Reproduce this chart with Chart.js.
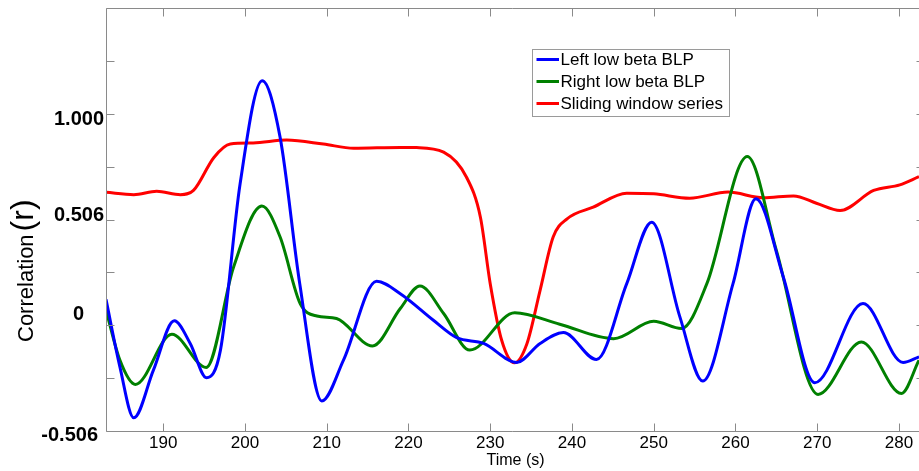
<!DOCTYPE html>
<html>
<head>
<meta charset="utf-8">
<script src="https://cdn.jsdelivr.net/npm/chart.js@4"></script>
<style>
  html, body { margin: 0; padding: 0; background: #fff; }
  #wrap { width: 919px; height: 471px; }
</style>
</head>
<body>
<div id="wrap"><canvas id="mycanvas" width="919" height="471"></canvas></div>
<script>
// values (time in s, correlation in axis units)
var leftTime  = [183, 184.7, 186.4, 188.8, 191.35, 193.3, 195.3, 197.0, 199.4, 202.1, 204.3, 206.7, 209.4, 212.05, 216.1, 219.0,
                 223.05, 225.9, 229.2, 233.25, 236.1, 238.95, 243.0, 246.7, 249.75, 253.2, 256.0, 259.7, 262.5, 265.85, 269.7, 275.6, 280.5, 282.45];
var leftValue = [0.124, -0.199, -0.443, -0.215, 0.021, -0.087, -0.251, -0.119, 0.676, 1.170, 0.899, 0.199, -0.363, -0.167, 0.210, 0.151,
                 0.024, -0.059, -0.087, -0.178, -0.087, -0.035, -0.164, 0.199, 0.493, 0.040, -0.267, 0.199, 0.605, 0.231, -0.275, 0.104, -0.178, -0.151];

var rightTime  = [183, 184.7, 186.6, 191.06, 195.26, 198.6, 202.07, 204.3, 206.75, 208.8, 211.2, 215.6, 219.0, 221.4, 224.3, 227.5,
                  233.0, 238.5, 245.1, 250.0, 253.4, 256.5, 261.45, 265.0, 270.1, 275.4, 280.3, 282.45];
var rightValue = [0.072, -0.167, -0.283, -0.043, -0.202, 0.278, 0.570, 0.422, 0.104, 0.044, 0.032, -0.099, 0.080, 0.188, 0.056, -0.119,
                  0.060, 0.005, -0.064, 0.019, -0.016, 0.199, 0.807, 0.358, -0.331, -0.080, -0.326, -0.167];

var slideTime  = [183, 186.4, 189.2, 192.1, 193.7, 196.2, 198.2, 201.0, 205.1, 209.6, 213.3, 219.0, 221.0, 224.3, 227.1, 228.8,
                  230.0, 231.4, 232.96, 234.5, 236.1, 237.7, 239.4, 242.6, 246.7, 250.0, 254.4, 259.1, 263.4, 267.1, 269.9, 272.8, 276.9, 280.1, 282.45];
var slideValue = [0.636, 0.625, 0.641, 0.625, 0.645, 0.803, 0.867, 0.872, 0.886, 0.867, 0.847, 0.851, 0.850, 0.828, 0.708, 0.517,
                  0.199, -0.072, -0.180, -0.087, 0.167, 0.422, 0.509, 0.565, 0.632, 0.629, 0.608, 0.637, 0.610, 0.619, 0.584, 0.549, 0.645, 0.672, 0.711];

var seriesNames = ["Left low beta BLP", "Right low beta BLP", "Sliding window series"];
var seriesColors = ["#0000ff", "#008000", "#ff0000"];

var xTicks = [190, 200, 210, 220, 230, 240, 250, 260, 270, 280];
var yTickValues = [-0.506, -0.253, 0, 0.253, 0.506, 0.759, 1.012, 1.265, 1.518];
var yLabelValues = [-0.506, 0, 0.506, 1.012];
var yLabelText = ["-0.506", "0", "0.506", "1.000"];

var FONT = "'Liberation Sans', Arial, sans-serif";

function pts(xs, ys) {
  var out = [];
  for (var i = 0; i < xs.length; i++) out.push({x: xs[i], y: ys[i]});
  return out;
}

// axes, ticks, labels and legend drawn in the MATLAB look
var matlabAxes = {
  id: 'matlabAxes',
  afterDraw: function(chart) {
    var ctx = chart.ctx;
    var a = chart.chartArea;
    var xs = chart.scales.x, ys = chart.scales.y;
    var L = Math.round(a.left) + 0.5, T = Math.round(a.top) + 0.5, B = Math.round(a.bottom) + 0.5, R = a.right;
    ctx.save();
    ctx.strokeStyle = '#8a8a8a';
    ctx.lineWidth = 1;
    ctx.beginPath();
    ctx.moveTo(R, T); ctx.lineTo(L, T); ctx.lineTo(L, B); ctx.lineTo(R, B);
    ctx.stroke();

    // x ticks (bottom and top, inward)
    ctx.beginPath();
    xTicks.forEach(function(v) {
      var px = Math.round(xs.getPixelForValue(v)) + 0.5;
      ctx.moveTo(px, B); ctx.lineTo(px, B - 8);
      ctx.moveTo(px, T); ctx.lineTo(px, T + 8);
    });
    // y ticks (left and the clipped right side)
    yTickValues.forEach(function(v) {
      var py = Math.round(ys.getPixelForValue(v)) + 0.5;
      ctx.moveTo(L, py); ctx.lineTo(L + 8, py);
      ctx.moveTo(R - 2.5, py); ctx.lineTo(R, py);
    });
    ctx.stroke();

    // x tick labels
    ctx.fillStyle = '#000';
    ctx.font = '17px ' + FONT;
    ctx.textAlign = 'center';
    ctx.textBaseline = 'middle';
    xTicks.forEach(function(v) {
      ctx.fillText(String(v), xs.getPixelForValue(v), 443);
    });
    ctx.font = '16px ' + FONT;
    ctx.fillText('Time (s)', (a.left + 925) / 2, 461);

    // y tick labels (bold, placed as in the original figure)
    var labelRight = [98, 84, 104, 104];
    var labelShift = [4.5, -11, -4, 6];
    ctx.font = 'bold 20px ' + FONT;
    ctx.textAlign = 'right';
    yLabelValues.forEach(function(v, i) {
      ctx.fillText(yLabelText[i], labelRight[i], ys.getPixelForValue(v) + labelShift[i]);
    });

    // y axis title, "(r)" larger
    ctx.save();
    ctx.translate(33, 342);
    ctx.rotate(-Math.PI / 2);
    ctx.textAlign = 'left';
    ctx.textBaseline = 'alphabetic';
    ctx.font = '22px ' + FONT;
    ctx.fillText('Correlation', 0, 0);
    var w = ctx.measureText('Correlation').width;
    ctx.font = '32px ' + FONT;
    ctx.fillText('(r)', w + 3, 0);
    ctx.restore();

    // legend box
    var lx = 532, ly = 49, lw = 197, lh = 67;
    ctx.fillStyle = '#fff';
    ctx.fillRect(lx, ly, lw, lh);
    ctx.strokeStyle = '#9a9a9a';
    ctx.lineWidth = 1;
    ctx.strokeRect(lx + 0.5, ly + 0.5, lw, lh);
    ctx.font = '17px ' + FONT;
    ctx.textAlign = 'left';
    ctx.textBaseline = 'middle';
    chart.data.datasets.forEach(function(ds, i) {
      var ry = ly + 10.5 + i * 22;
      ctx.strokeStyle = ds.borderColor;
      ctx.lineWidth = 3;
      ctx.beginPath();
      ctx.moveTo(lx + 4.5, ry); ctx.lineTo(lx + 27, ry);
      ctx.stroke();
      ctx.fillStyle = '#000';
      ctx.fillText(ds.label, lx + 28.5, ry + 1);
    });
    ctx.restore();
  }
};

var chartdata = {
  datasets: [
    { label: seriesNames[0], data: pts(leftTime, leftValue) },
    { label: seriesNames[1], data: pts(rightTime, rightValue) },
    { label: seriesNames[2], data: pts(slideTime, slideValue) }
  ]
};
chartdata.datasets.forEach(function(ds, i) {
  ds.borderColor = seriesColors[i];
  ds.backgroundColor = seriesColors[i];
  ds.borderWidth = 3;
  ds.pointRadius = 0;
  ds.showLine = true;
  ds.fill = false;
  ds.cubicInterpolationMode = 'monotone';
});

var ctx = document.getElementById('mycanvas');
var graph = new Chart(ctx, {
  type: 'scatter',
  data: chartdata,
  plugins: [matlabAxes],
  options: {
    responsive: false,
    animation: false,
    devicePixelRatio: 1,
    layout: { padding: { left: 106, top: 8, right: 0, bottom: 40 } },
    scales: {
      x: { type: 'linear', min: 183, max: 282.45, display: false },
      y: { type: 'linear', min: -0.506, max: 1.518, display: false }
    },
    plugins: {
      legend: { display: false },
      tooltip: { enabled: false }
    }
  }
});
</script>
</body>
</html>
